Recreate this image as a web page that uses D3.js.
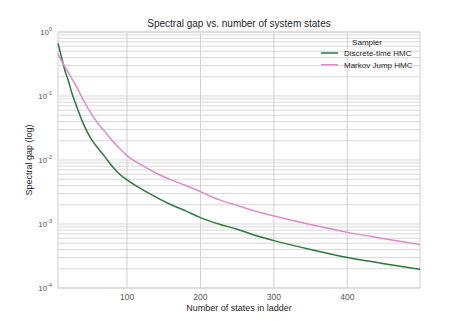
<!DOCTYPE html>
<html>
<head>
<meta charset="utf-8">
<script src="https://cdn.jsdelivr.net/npm/d3@7"></script>
<style>
  body { margin: 0; background: #fff; }
  text { font-family: "Liberation Sans", Arial, sans-serif; }
</style>
</head>
<body>
<svg width="467" height="321"></svg>
<script>
// number of states in the ladder (sample points)
const states = [6, 10, 15, 20, 25, 30, 40, 50, 60, 70, 80, 90, 100, 120, 140, 160, 180, 200, 225, 250, 275, 300, 350, 400, 450, 499]
// spectral gap, discrete-time HMC
const discreteGap = [0.66, 0.44, 0.26, 0.175, 0.11, 0.076, 0.038, 0.0224, 0.0155, 0.0112, 0.0079, 0.006, 0.0049,
  0.0035, 0.0026, 0.002, 0.0016, 0.00126, 0.001, 0.00083, 0.00066, 0.00055, 0.0004, 0.0003, 0.00024, 0.000195]
// spectral gap, Markov jump HMC
const jumpGap = [0.46, 0.37, 0.29, 0.234, 0.186, 0.148, 0.089, 0.056, 0.038, 0.0275, 0.02, 0.0151, 0.0117,
  0.0083, 0.0062, 0.0049, 0.004, 0.0032, 0.0024, 0.00195, 0.00158, 0.00133, 0.00098, 0.00074, 0.00059, 0.00048]
const seriesNames = ["Discrete-time HMC", "Markov Jump HMC"]
const seriesColors = ["#2b7a3b", "#dc8cc8"]
const xTicks = [100, 200, 300, 400]
const yDecades = [0, -1, -2, -3, -4]

const margin = {top: 32, right: 47, bottom: 33, left: 58}
const width = 467, height = 321
const innerW = width - margin.left - margin.right
const innerH = height - margin.top - margin.bottom

const svg = d3.select("svg")
const g = svg.append("g").attr("transform", `translate(${margin.left},${margin.top})`)

const x = d3.scaleLinear().domain([6, 499]).range([0, innerW])
const y = d3.scaleLog().domain([1e-4, 1]).range([innerH, 0])

// grid: every minor log tick
const yGrid = y.ticks()
g.append("g")
  .selectAll("line")
  .data(yGrid)
  .enter().append("line")
  .attr("x1", 0).attr("x2", innerW)
  .attr("y1", d => y(d)).attr("y2", d => y(d))
  .attr("stroke", "#d9d9d9")
  .attr("stroke-width", 1)

g.append("g")
  .selectAll("line")
  .data(xTicks)
  .enter().append("line")
  .attr("x1", d => x(d)).attr("x2", d => x(d))
  .attr("y1", 0).attr("y2", innerH)
  .attr("stroke", "#d0d0d0")
  .attr("stroke-width", 1)

g.append("rect")
  .attr("width", innerW).attr("height", innerH)
  .attr("fill", "none")
  .attr("stroke", "#d0d0d0")

// lines
const series = [discreteGap, jumpGap]
const line = d3.line()
  .x((d, i) => x(states[i]))
  .y(d => y(d))
  .curve(d3.curveMonotoneX)

series.forEach((s, k) => {
  g.append("path")
    .datum(s)
    .attr("d", line)
    .attr("fill", "none")
    .attr("stroke", seriesColors[k])
    .attr("stroke-width", 1.5)
})

// x tick labels
g.append("g")
  .selectAll("text")
  .data(xTicks)
  .enter().append("text")
  .attr("x", d => x(d))
  .attr("y", innerH + 12)
  .attr("text-anchor", "middle")
  .attr("font-size", "8.5px")
  .attr("fill", "#555")
  .text(d => d)

// y tick labels 10^k
const yl = g.append("g")
  .selectAll("text")
  .data(yDecades)
  .enter().append("text")
  .attr("x", -6)
  .attr("y", d => y(Math.pow(10, d)) + 3)
  .attr("text-anchor", "end")
  .attr("font-size", "8px")
  .attr("fill", "#555")
yl.append("tspan").text("10")
yl.append("tspan").attr("dy", -4).attr("font-size", "5.5px").text(d => d)

// title and axis labels
svg.append("text")
  .attr("x", margin.left + innerW / 2)
  .attr("y", 27)
  .attr("text-anchor", "middle")
  .attr("font-size", "10px")
  .attr("fill", "#262626")
  .text("Spectral gap vs. number of system states")

svg.append("text")
  .attr("x", margin.left + innerW / 2)
  .attr("y", 311)
  .attr("text-anchor", "middle")
  .attr("font-size", "9px")
  .attr("fill", "#262626")
  .text("Number of states in ladder")

svg.append("text")
  .attr("transform", `translate(32,${margin.top + innerH / 2}) rotate(-90)`)
  .attr("text-anchor", "middle")
  .attr("font-size", "9px")
  .attr("fill", "#262626")
  .text("Spectral gap (log)")

// legend
const legend = svg.append("g").attr("transform", "translate(320,42)")
legend.append("text")
  .attr("x", 47).attr("y", 3)
  .attr("text-anchor", "middle")
  .attr("font-size", "8px")
  .attr("fill", "#262626")
  .text("Sampler")
seriesNames.forEach((name, i) => {
  const row = legend.append("g").attr("transform", `translate(0,${11 + i * 11.7})`)
  row.append("line")
    .attr("x1", 1).attr("x2", 18)
    .attr("stroke", seriesColors[i])
    .attr("stroke-width", 1.5)
  row.append("text")
    .attr("x", 24).attr("y", 3)
    .attr("font-size", "8px")
    .attr("fill", "#262626")
    .text(name)
})
</script>
</body>
</html>
